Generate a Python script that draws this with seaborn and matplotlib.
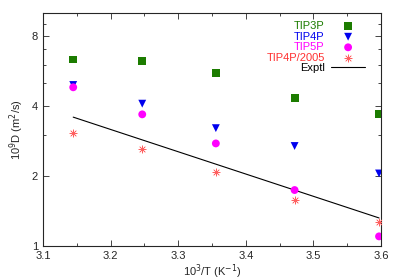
import numpy as np
import pandas as pd
import matplotlib
matplotlib.use("Agg")
import matplotlib.pyplot as plt
from matplotlib.ticker import FixedLocator, NullFormatter, MultipleLocator, LogLocator
import seaborn as sns

# 10^3/T for T = 318, 308, 298, 288, 278 K
inv_t = [3.1447, 3.2468, 3.3557, 3.4722, 3.5971]

tip3p = [6.33, 6.22, 5.54, 4.34, 3.70]
tip4p = [4.92, 4.09, 3.21, 2.69, 2.05]
tip5p = [4.81, 3.68, 2.76, 1.74, 1.10]
tip4p2005 = [3.07, 2.60, 2.07, 1.57, 1.27]

expt_x = [3.1447, 3.5971]
expt_d = [3.58, 1.32]

series = ["TIP3P", "TIP4P", "TIP5P", "TIP4P/2005"]
colors = ["#1c7c00", "#0000ee", "#ff00ff", "#ff3030"]
markers = ["s", "v", "o", (8, 2, 0)]

df = pd.DataFrame({
    "x": inv_t * 4,
    "D": tip3p + tip4p + tip5p + tip4p2005,
    "model": np.repeat(series, len(inv_t)),
})

sns.set_style("ticks")
plt.rcParams["font.family"] = ["Liberation Sans", "DejaVu Sans"]

fig = plt.figure(figsize=(4, 2.8), dpi=100)
ax = fig.add_axes([0.1075, 0.1214, 0.845, 0.831])

for name, c, m in zip(series, colors, markers):
    sub = df[df["model"] == name]
    if name == "TIP4P/2005":
        # thin light asterisk, like gnuplot's pt 3
        ax.scatter(sub["x"], sub["D"], marker=m, s=28, color="#ff6060",
                   linewidths=0.45, label=name, zorder=3)
    else:
        sns.scatterplot(data=sub, x="x", y="D", marker=m, color=c, s=32,
                        edgecolor="none", label=name, ax=ax, zorder=3)

sns.lineplot(x=expt_x, y=expt_d, color="black", lw=0.8, label="Exptl", ax=ax)

ax.set_yscale("log")
ax.set_xlim(3.1, 3.6)
ax.set_ylim(1, 10)
ax.yaxis.set_major_locator(FixedLocator([1, 2, 4, 8]))
ax.yaxis.set_major_formatter(plt.FuncFormatter(lambda v, p: "%g" % v))
ax.yaxis.set_minor_locator(LogLocator(base=10, subs=(3, 5, 6, 7, 9)))
ax.yaxis.set_minor_formatter(NullFormatter())
ax.xaxis.set_major_locator(MultipleLocator(0.1))
ax.xaxis.set_minor_locator(MultipleLocator(0.05))
ax.xaxis.set_major_formatter(plt.FuncFormatter(lambda v, p: "%.1f" % v))

ax.tick_params(which="both", direction="in", top=True, right=True,
               labelsize=8, width=0.6)
ax.tick_params(which="major", length=4)
ax.tick_params(which="minor", length=2.5)
for s in ax.spines.values():
    s.set_linewidth(0.8)

ax.set_xlabel("10$^3$/T (K$^{-1}$)", fontsize=8, labelpad=1)
ax.set_ylabel("10$^9$D (m$^2$/s)", fontsize=8, labelpad=4)

handles, labels = ax.get_legend_handles_labels()
ax.legend(handles, labels, loc="upper right", frameon=False, markerfirst=False,
          fontsize=8, labelspacing=0.05, handlelength=3.0, handletextpad=0.6,
          borderaxespad=0.3, bbox_to_anchor=(0.975, 1.0),
          labelcolor=colors + ["black"])

fig.savefig("out.png", dpi=100)
